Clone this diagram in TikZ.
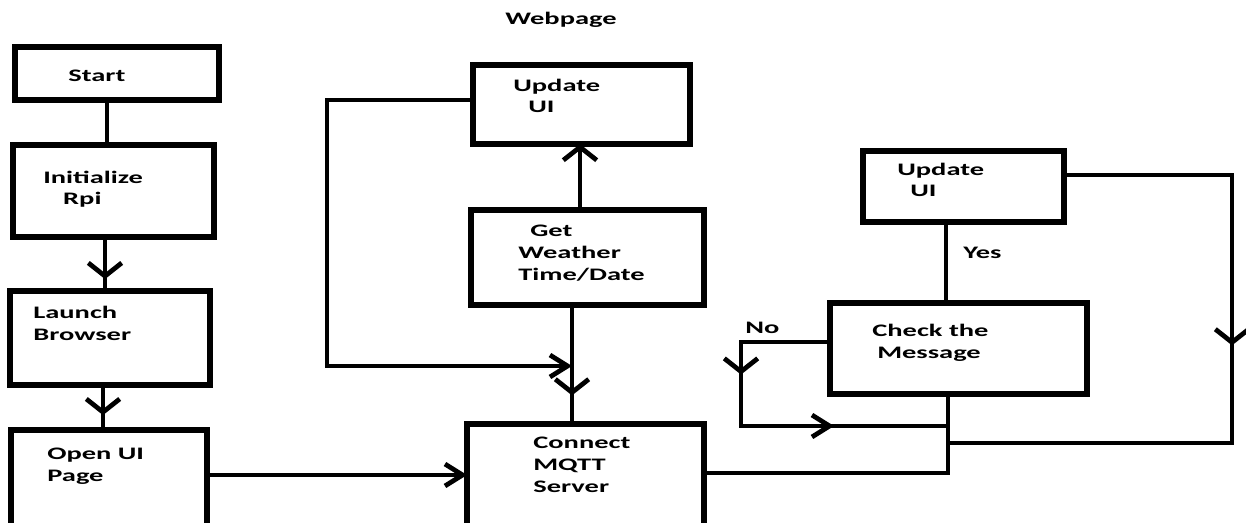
\documentclass[tikz,border=0pt]{standalone}
\usepackage{fontspec}
\setmainfont{Carlito}[FakeStretch=1.62]
\usepackage{tikz}
\usetikzlibrary{arrows.meta,decorations.markings,fit}

\tikzset{
  vbarb/.tip={Straight Barb[length=7.5pt,width=19pt]},
  hbarb/.tip={Straight Barb[length=10pt,width=12.5pt]},
  box/.style={draw, line width=3pt, inner sep=0pt, outer sep=0pt},
  txt/.style={font=\fontsize{10}{12.4}\selectfont\bfseries, align=left, inner sep=0pt, anchor=base west},
  wire/.style={line width=2.7pt},
  tipat/.style 2 args={postaction={decorate, decoration={markings, mark=at position #1 with {\arrow{#2}}}}}
}

\begin{document}
\begin{tikzpicture}[x=0.02cm, y=-0.02cm]
\useasboundingbox (0,0) rectangle (1246,523);
\fill[white] (0,0) rectangle (1246,523);
\clip (0,0) rectangle (1246,523);

\node[box, fit={(15,47) (219,100)}] (start) {};
\node[box, fit={(13,145) (214,237)}] (init) {};
\node[box, fit={(10,291) (210,385)}] (launch) {};
\node[box, fit={(11,430) (207,560)}] (openui) {};
\node[box, fit={(473,65) (690,144)}] (upd1) {};
\node[box, fit={(471,210) (704,305)}] (weather) {};
\node[box, fit={(467,424) (704,560)}] (mqtt) {};
\node[box, fit={(863,151) (1064,222)}] (upd2) {};
\node[box, fit={(830,303) (1087,394)}] (check) {};

\node[txt] (webT) at (505,25) {Webpage};
\node[txt] (startT) at (68,82) {Start};
\node[txt] (initT) at (43,205) {Initialize\\\hspace*{11.3pt}Rpi};
\node[txt] (launchT) at (33,340) {Launch\\Browser};
\node[txt] (openT) at (47,481) {Open UI\\Page};
\node[txt] (upd1T) at (513,113) {Update\\\hspace*{8.5pt}UI};
\node[txt] (weatherT) at (518,280) {\hspace*{6.8pt}Get\\Weather\\Time/Date};
\node[txt] (mqttT) at (533,492) {Connect\\MQTT\\Server};
\node[txt] (upd2T) at (897,197) {Update\\\hspace*{7.4pt}UI};
\node[txt] (yesT) at (963,258) {Yes};
\node[txt] (checkT) at (872,358) {Check the\\\hspace*{2.8pt}Message};
\node[txt] (noT) at (745,333) {No};

\coordinate (A) at (107,0);
\coordinate (B) at (105,0);
\coordinate (C) at (103,0);
\coordinate (D) at (0,475);
\coordinate (E) at (580,0);
\coordinate (F) at (572,0);
\coordinate (G) at (327,100);
\coordinate (H) at (327,366);
\coordinate (I) at (946,0);
\coordinate (J) at (948,473);
\coordinate (K) at (1232,175);
\coordinate (L) at (1232,443);
\coordinate (M) at (741,342);
\coordinate (N) at (741,426);

\draw[wire] (start.south -| A) to (init.north -| A);
\draw[wire, tipat={0.78}{vbarb}] (init.south -| B) to (launch.north -| B);
\draw[wire, tipat={0.67}{vbarb}] (launch.south -| C) to (openui.north -| C);
\draw[wire, -{hbarb}] (openui.east |- D) to (mqtt.west |- D);
\draw[wire, -{vbarb}] (weather.north -| E) to (upd1.south -| E);
\draw[wire, tipat={0.76}{vbarb}] (weather.south -| F) to (mqtt.north -| F);
\draw[wire, -{hbarb}] (upd1.west |- G) to (G) to (H) to (H -| F);
\draw[wire] (upd2.south -| I) to (check.north -| I);
\draw[wire] (check.south -| J) to (J) to (mqtt.east |- J);
\draw[wire, tipat={0.47}{vbarb}] (upd2.east |- K) to (K) to (L) to (L -| J);
\draw[wire, tipat={0.32}{vbarb}, tipat={0.70}{hbarb}] (check.west |- M) to (M) to (N) to (N -| J);
\end{tikzpicture}
\end{document}
